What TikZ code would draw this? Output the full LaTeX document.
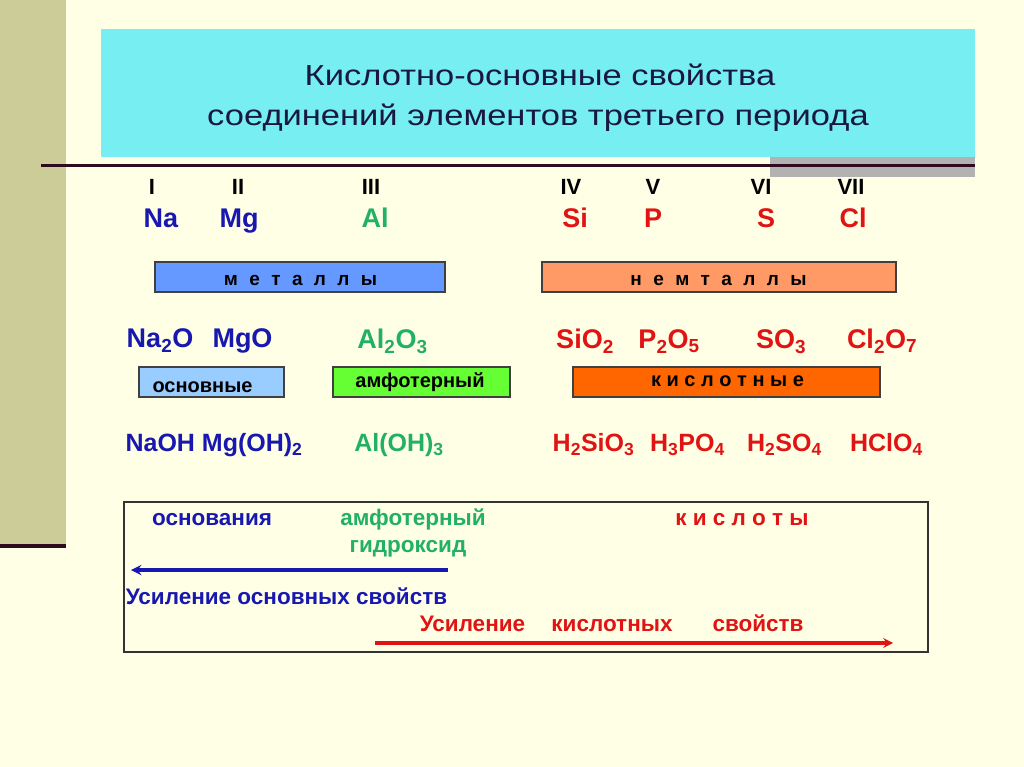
\documentclass[tikz,border=0pt]{standalone}
\usepackage{graphicx}
\usepackage{fontspec}
\setmainfont{Liberation Sans}
\definecolor{bgcol}{RGB}{255,255,229}
\definecolor{stripcol}{RGB}{204,204,153}
\definecolor{titlebox}{RGB}{119,238,242}
\definecolor{titletext}{RGB}{24,24,64}
\definecolor{rulecol}{RGB}{46,10,31}
\definecolor{metblue}{RGB}{24,24,176}
\definecolor{amgreen}{RGB}{34,176,102}
\definecolor{nmred}{RGB}{224,20,20}
\definecolor{metbox}{RGB}{102,153,255}
\definecolor{nmbox}{RGB}{255,153,102}
\definecolor{basebox}{RGB}{153,204,255}
\definecolor{ambox}{RGB}{102,255,51}
\definecolor{acbox}{RGB}{255,102,0}
\newcommand{\widespace}{\spaceskip 0.6em\relax}

\begin{document}
\begin{tikzpicture}[x=1pt, y=-1pt, node distance=31pt, inner sep=0pt,
  txt/.style={text height=#1, text depth=0pt},
  head/.style={txt=14.8pt, text=titletext, font=\fontsize{29}{32}\selectfont},
  roman/.style={txt=11.2pt, font=\fontsize{22}{26}\selectfont\bfseries},
  elem/.style={txt=13.8pt, font=\fontsize{27}{30}\selectfont\bfseries},
  oxide/.style={txt=13.8pt, font=\fontsize{27}{30}\selectfont\bfseries},
  hydr/.style={txt=12.75pt, font=\fontsize{25}{28}\selectfont\bfseries},
  bar/.style={draw=black!75, line width=1.2pt, minimum height=30pt},
  bartxt/.style={txt=10.2pt, font=\fontsize{20}{24}\selectfont\bfseries},
  wide/.style={txt=9.7pt, font=\fontsize{19}{24}\selectfont\bfseries\widespace},
  note/.style={txt=11.5pt, font=\fontsize{22.5}{27}\selectfont\bfseries}]
\useasboundingbox (0,0) rectangle (1024,767);
\fill[bgcol] (0,0) rectangle (1024,767);
% left strip and rules
\fill[stripcol] (0,0) rectangle (66,545);
\draw[rulecol, line width=4pt] (0,546) -- (66,546);
\fill[black!30] (770,157) rectangle (975,177);
\draw[rulecol, line width=3pt] (41,165.5) -- (975,165.5);
% title
\node (title)[fill=titlebox, minimum width=874pt, minimum height=128pt] at (538,93) {};
\node (t1)[head] at (540,78.6) {\scalebox{1.19}[1]{Кислотно-основные свойства}};
\node (t2)[head, node distance=40pt] [below of = t1, xshift=-2pt] {\scalebox{1.19}[1]{соединений элементов третьего периода}};
% groups
\node (r1)[roman] at (152,189.4) {I};
\node (r2)[roman] at (238,189.4) {II};
\node (r3)[roman] at (371,189.4) {III};
\node (r4)[roman] at (571,189.4) {IV};
\node (r5)[roman] at (653,189.4) {V};
\node (r6)[roman] at (761,189.4) {VI};
\node (r7)[roman] at (851,189.4) {VII};
% elements
\node (e1)[elem, text=metblue] [below of = r1, xshift=9pt] {Na};
\node (e2)[elem, text=metblue] [below of = r2, xshift=1pt] {Mg};
\node (e3)[elem, text=amgreen] [below of = r3, xshift=4pt] {Al};
\node (e4)[elem, text=nmred] [below of = r4, xshift=4pt] {Si};
\node (e5)[elem, text=nmred] [below of = r5] {P};
\node (e6)[elem, text=nmred] [below of = r6, xshift=5pt] {S};
\node (e7)[elem, text=nmred] [below of = r7, xshift=2pt] {Cl};
\node (met)[bar, fill=metbox, minimum width=290pt] at (300,277) {};
\node (mettxt)[wide] at (300.5,281) {м е т а л л ы};
\node (nonmet)[bar, fill=nmbox, minimum width=354pt] at (719,277) {};
\node (nonmettxt)[wide] at (718.5,281) {н е м т а л л ы};
% oxides
\node (o1)[oxide, text=metblue] at (160,340.5) {Na\textsubscript{2}O};
\node (o2)[oxide, text=metblue] at (242.5,340.5) {MgO};
\node (o3)[oxide, text=amgreen] at (392.5,341.5) {Al\textsubscript{2}O\textsubscript{3}};
\node (o4)[oxide, text=nmred] at (585,341.5) {SiO\textsubscript{2}};
\node (o5)[oxide, text=nmred] at (669,341.5) {P\textsubscript{2}O\textsubscript{5}};
\node (o6)[oxide, text=nmred] at (781,341.5) {SO\textsubscript{3}};
\node (o7)[oxide, text=nmred] at (882,341.5) {Cl\textsubscript{2}O\textsubscript{7}};
\node (bas)[bar, fill=basebox, minimum width=145pt] at (211.5,382) {};
\node (bastxt)[bartxt] at (202.5,387) {основные};
\node (amph)[bar, fill=ambox, minimum width=177pt] at (421.5,382) {};
\node (amphtxt)[bartxt] at (420,382) {амфотерный};
\node (acid)[bar, fill=acbox, minimum width=307pt] at (726.5,382) {};
\node (acidtxt)[bartxt] at (727.5,381) {к и с л о т н ы е};
% hydroxides
\node (h1)[hydr, text=metblue] at (214,445.6) {NaOH Mg(OH)\textsubscript{2}};
\node (h3)[hydr, text=amgreen] at (399,445.6) {Al(OH)\textsubscript{3}};
\node (h4)[hydr, text=nmred] at (593.5,445.6) {H\textsubscript{2}SiO\textsubscript{3}};
\node (h5)[hydr, text=nmred] at (687.5,445.6) {H\textsubscript{3}PO\textsubscript{4}};
\node (h6)[hydr, text=nmred] at (784.5,445.6) {H\textsubscript{2}SO\textsubscript{4}};
\node (h7)[hydr, text=nmred] at (886.5,445.6) {HClO\textsubscript{4}};
% bottom frame
\node (frame)[draw=black!80, line width=1.2pt, minimum width=804pt, minimum height=150pt] at (526,577) {};
\node (bases)[note, text=metblue] at (212,519.8) {основания};
\node (amph2)[note, text=amgreen] at (413,519.8) {амфотерный};
\node (hydrox)[note, text=amgreen, node distance=27pt] [below of = amph2, xshift=-5pt] {гидроксид};
\node (acids)[note, text=nmred] at (742,519.8) {к и с л о т ы};
\coordinate (bstart) at (448,570);
\coordinate (bend) at (131,570);
\draw[arrows=-stealth, line width=3.5pt, color=metblue] (bstart) -- (bend);
\node (basup)[note, text=metblue] at (286.5,598.8) {Усиление основных свойств};
\node (acup1)[note, text=nmred] at (472.5,625.3) {Усиление};
\node (acup2)[note, text=nmred] at (612,625.3) {кислотных};
\node (acup3)[note, text=nmred] at (758,625.3) {свойств};
\coordinate (rstart) at (375,643);
\coordinate (rend) at (893,643);
\draw[arrows=-stealth, line width=3.2pt, color=nmred] (rstart) -- (rend);
\end{tikzpicture}
\end{document}
